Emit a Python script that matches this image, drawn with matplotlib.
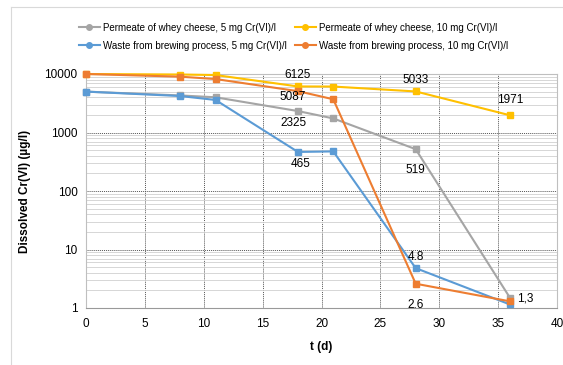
import matplotlib.pyplot as plt
from matplotlib.lines import Line2D
from matplotlib.ticker import LogLocator, NullFormatter

# Data
days = [0, 8, 11, 18, 21, 28, 36]
whey_5 = [5000, 4300, 4000, 2325, 1740, 519, 1.5]
whey_10 = [10000, 9800, 9600, 6125, 6100, 5033, 1971]
brew_5 = [5000, 4200, 3600, 465, 475, 4.8, 1.15]
brew_10 = [10000, 9000, 8200, 5087, 3700, 2.6, 1.3]

labels = ['Permeate of whey cheese, 5 mg Cr(VI)/l',
          'Permeate of whey cheese, 10 mg Cr(VI)/l',
          'Waste from brewing process, 5 mg Cr(VI)/l',
          'Waste from brewing process, 10 mg Cr(VI)/l']
colors = ['#A5A5A5', '#FFC000', '#5B9BD5', '#ED7D31']
series = [whey_5, whey_10, brew_5, brew_10]

plt.rcParams['font.family'] = ['Liberation Sans', 'DejaVu Sans']

fig = plt.figure(figsize=(5.63, 3.65), dpi=100)
ax = fig.add_axes([86 / 563, 1 - 308 / 365, (557 - 86) / 563, (308 - 74) / 365])

for vals, c in zip(series, colors):
    ax.plot(days, vals, color=c, linewidth=1.5, marker='s', markersize=4.5, clip_on=False, zorder=3)

ax.set_yscale('log')
ax.set_ylim(1, 10000)
ax.set_xlim(0, 40)
ax.set_xticks(range(0, 41, 5))
ax.set_yticks([1, 10, 100, 1000, 10000])
ax.set_yticklabels(['1', '10', '100', '1000', '10000'])
ax.yaxis.set_minor_locator(LogLocator(base=10, subs=range(2, 10), numticks=20))
ax.yaxis.set_minor_formatter(NullFormatter())
ax.tick_params(axis='both', which='both', length=0, labelsize=8.5, colors='#000000')
ax.tick_params(axis='x', pad=7)
ax.tick_params(axis='y', pad=6)

ax.grid(True, which='major', color='#555555', linestyle=(0, (1, 1)), linewidth=0.7)
ax.grid(True, which='minor', axis='y', color='#D0D0D0', linestyle='-', linewidth=0.6)
ax.set_axisbelow(True)
for s in ax.spines.values():
    s.set_color('#BFBFBF')
    s.set_linewidth(0.8)
ax.spines['bottom'].set_color('#999999')

ax.set_xlabel('t (d)', fontsize=8.5, fontweight='bold', labelpad=8)
ax.set_ylabel('Dissolved Cr(VI) (µg/l)', fontsize=8.5, fontweight='bold', labelpad=10)

# Data labels
fs = 8.5
ax.annotate('6125', (days[3], whey_10[3]), xytext=(0, 6), textcoords='offset points', ha='center', fontsize=fs)
ax.annotate('5087', (days[3], brew_10[3]), xytext=(-4, 0), textcoords='offset points', ha='center', va='top', fontsize=fs)
ax.annotate('2325', (days[3], whey_5[3]), xytext=(-3, -4), textcoords='offset points', ha='center', va='top', fontsize=fs)
ax.annotate('465', (days[3], brew_5[3]), xytext=(2, -4), textcoords='offset points', ha='center', va='top', fontsize=fs)
ax.annotate('5033', (days[5], whey_10[5]), xytext=(0, 6), textcoords='offset points', ha='center', fontsize=fs)
ax.annotate('519', (days[5], whey_5[5]), xytext=(0, -11), textcoords='offset points', ha='center', va='top', fontsize=fs)
ax.annotate('1971', (days[6], whey_10[6]), xytext=(0, 9), textcoords='offset points', ha='center', fontsize=fs)
ax.annotate('4.8', (days[5], brew_5[5]), xytext=(0, 6), textcoords='offset points', ha='center', fontsize=fs)
ax.annotate('2.6', (days[5], brew_10[5]), xytext=(0, -11), textcoords='offset points', ha='center', va='top', fontsize=fs)
ax.annotate('1,3', (days[6], brew_10[6]), xytext=(5, 2), textcoords='offset points', ha='left', va='center', fontsize=fs)

# Legend (column-major order so rows read whey / brewing)
order = [0, 2, 1, 3]
handles = [Line2D([0], [0], color=colors[i], marker='o', markersize=4, linewidth=1.5) for i in order]
fig.legend(handles, [labels[i] for i in order], loc='upper left', bbox_to_anchor=(70 / 563, 1 - 14 / 365),
           ncol=2, frameon=False, fontsize=7, handlelength=2.2, handletextpad=0.3,
           columnspacing=0.8, labelspacing=0.8)

# Chart frame (left and top edges visible in the crop)
fig.add_artist(Line2D([11 / 563, 11 / 563], [0, 1 - 7 / 365], color='#D9D9D9', linewidth=0.8, transform=fig.transFigure))
fig.add_artist(Line2D([11 / 563, 1], [1 - 7 / 365, 1 - 7 / 365], color='#D9D9D9', linewidth=0.8, transform=fig.transFigure))

fig.savefig('out.png', dpi=100)
